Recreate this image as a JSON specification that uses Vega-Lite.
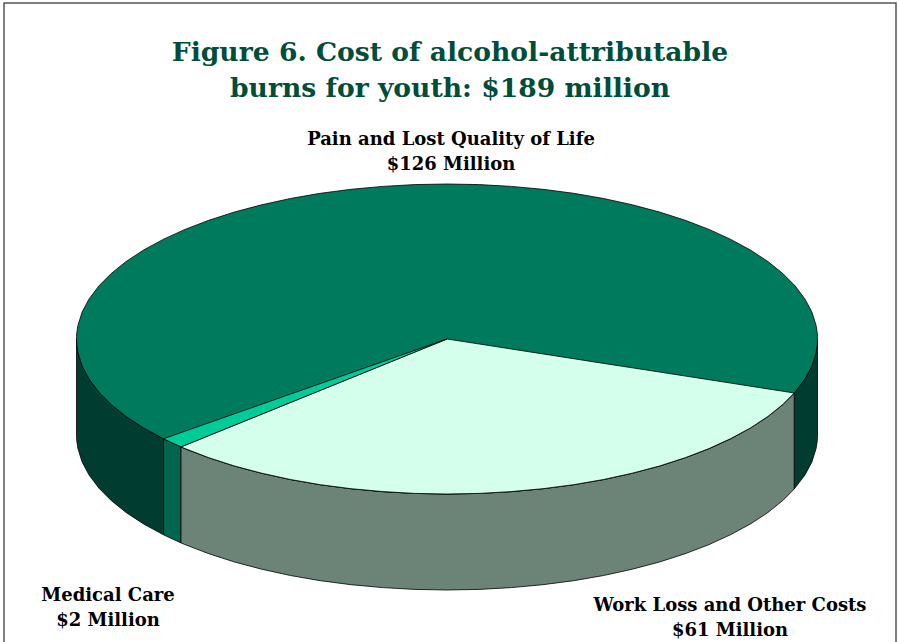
{
"$schema":"https://vega.github.io/schema/vega-lite/v6.json",
"width":892,"height":640,
"autosize":{"type":"none"},
"padding":{"left":4,"top":3,"right":3,"bottom":0},
"background":"white",
"view":{"stroke":"#555555","strokeWidth":1.5,"fill":"white"},
"title":{"text":["Figure 6. Cost of alcohol-attributable","burns for youth: $189 million"],"font":"DejaVu Serif","fontSize":26.6,"fontWeight":"bold","color":"#004D3A","lineHeight":36,"anchor":"middle","frame":"group","offset":-100},
"datasets":{
"shape":[
{"part":"Pain wall","x":-370.5,"y":0,"y2":96},{"part":"Pain wall","x":-370.4,"y":2.7,"y2":98.7},{"part":"Pain wall","x":-370.3,"y":5.4,"y2":101.4},{"part":"Pain wall","x":-369.1,"y":13.5,"y2":109.5},{"part":"Pain wall","x":-364.9,"y":26.9,"y2":122.9},{"part":"Pain wall","x":-357.9,"y":40.1,"y2":136.1},{"part":"Pain wall","x":-348.2,"y":53,"y2":149},{"part":"Pain wall","x":-335.8,"y":65.5,"y2":161.5},{"part":"Pain wall","x":-320.9,"y":77.5,"y2":173.5},{"part":"Pain wall","x":-303.5,"y":88.9,"y2":184.9},{"part":"Pain wall","x":-283.5,"y":99.8,"y2":195.8},
{"part":"Pain wall right","x":347.2,"y":54,"y2":150},{"part":"Pain wall right","x":357.9,"y":40.1,"y2":136.1},{"part":"Pain wall right","x":364.9,"y":26.9,"y2":122.9},{"part":"Pain wall right","x":369.1,"y":13.5,"y2":109.5},{"part":"Pain wall right","x":370.3,"y":5.4,"y2":101.4},{"part":"Pain wall right","x":370.4,"y":2.7,"y2":98.7},{"part":"Pain wall right","x":370.5,"y":0,"y2":96},
{"part":"Medical wall","x":-283.5,"y":99.8,"y2":195.8},{"part":"Medical wall","x":-266,"y":107.9,"y2":203.9},
{"part":"Work wall","x":-266,"y":107.9,"y2":203.9},{"part":"Work wall","x":-262,"y":109.6,"y2":205.6},{"part":"Work wall","x":-238.2,"y":118.7,"y2":214.7},{"part":"Work wall","x":-212.5,"y":127,"y2":223},{"part":"Work wall","x":-185.3,"y":134.2,"y2":230.2},{"part":"Work wall","x":-156.6,"y":140.5,"y2":236.5},{"part":"Work wall","x":-126.7,"y":145.7,"y2":241.7},{"part":"Work wall","x":-95.9,"y":149.7,"y2":245.7},{"part":"Work wall","x":-64.3,"y":152.6,"y2":248.6},{"part":"Work wall","x":-32.3,"y":154.4,"y2":250.4},{"part":"Work wall","x":0,"y":155,"y2":251},{"part":"Work wall","x":32.3,"y":154.4,"y2":250.4},{"part":"Work wall","x":64.3,"y":152.6,"y2":248.6},{"part":"Work wall","x":95.9,"y":149.7,"y2":245.7},{"part":"Work wall","x":126.7,"y":145.7,"y2":241.7},{"part":"Work wall","x":156.6,"y":140.5,"y2":236.5},{"part":"Work wall","x":185.3,"y":134.2,"y2":230.2},{"part":"Work wall","x":212.5,"y":127,"y2":223},{"part":"Work wall","x":238.2,"y":118.7,"y2":214.7},{"part":"Work wall","x":262,"y":109.6,"y2":205.6},{"part":"Work wall","x":283.8,"y":99.6,"y2":195.6},{"part":"Work wall","x":303.5,"y":88.9,"y2":184.9},{"part":"Work wall","x":320.9,"y":77.5,"y2":173.5},{"part":"Work wall","x":335.8,"y":65.5,"y2":161.5},{"part":"Work wall","x":347.2,"y":54,"y2":150},
{"part":"Pain top","x":-370.5,"y":0,"y2":0},{"part":"Pain top","x":-370.4,"y":-2.7,"y2":2.7},{"part":"Pain top","x":-370.3,"y":-5.4,"y2":5.4},{"part":"Pain top","x":-369.1,"y":-13.5,"y2":13.5},{"part":"Pain top","x":-364.9,"y":-26.9,"y2":26.9},{"part":"Pain top","x":-357.9,"y":-40.1,"y2":40.1},{"part":"Pain top","x":-348.2,"y":-53,"y2":53},{"part":"Pain top","x":-335.8,"y":-65.5,"y2":65.5},{"part":"Pain top","x":-320.9,"y":-77.5,"y2":77.5},{"part":"Pain top","x":-303.5,"y":-88.9,"y2":88.9},{"part":"Pain top","x":-283.8,"y":-99.6,"y2":99.6},{"part":"Pain top","x":-262,"y":-109.6,"y2":109.6},{"part":"Pain top","x":-238.2,"y":-118.7,"y2":118.7},{"part":"Pain top","x":-212.5,"y":-127,"y2":127},{"part":"Pain top","x":-185.3,"y":-134.2,"y2":134.2},{"part":"Pain top","x":-156.6,"y":-140.5,"y2":140.5},{"part":"Pain top","x":-126.7,"y":-145.7,"y2":145.7},{"part":"Pain top","x":-95.9,"y":-149.7,"y2":149.7},{"part":"Pain top","x":-64.3,"y":-152.6,"y2":152.6},{"part":"Pain top","x":-32.3,"y":-154.4,"y2":154.4},{"part":"Pain top","x":0,"y":-155,"y2":155},{"part":"Pain top","x":32.3,"y":-154.4,"y2":154.4},{"part":"Pain top","x":64.3,"y":-152.6,"y2":152.6},{"part":"Pain top","x":95.9,"y":-149.7,"y2":149.7},{"part":"Pain top","x":126.7,"y":-145.7,"y2":145.7},{"part":"Pain top","x":156.6,"y":-140.5,"y2":140.5},{"part":"Pain top","x":185.3,"y":-134.2,"y2":134.2},{"part":"Pain top","x":212.5,"y":-127,"y2":127},{"part":"Pain top","x":238.2,"y":-118.7,"y2":118.7},{"part":"Pain top","x":262,"y":-109.6,"y2":109.6},{"part":"Pain top","x":283.8,"y":-99.6,"y2":99.6},{"part":"Pain top","x":303.5,"y":-88.9,"y2":88.9},{"part":"Pain top","x":320.9,"y":-77.5,"y2":77.5},{"part":"Pain top","x":335.8,"y":-65.5,"y2":65.5},{"part":"Pain top","x":348.2,"y":-53,"y2":53},{"part":"Pain top","x":357.9,"y":-40.1,"y2":40.1},{"part":"Pain top","x":364.9,"y":-26.9,"y2":26.9},{"part":"Pain top","x":369.1,"y":-13.5,"y2":13.5},{"part":"Pain top","x":370.3,"y":-5.4,"y2":5.4},{"part":"Pain top","x":370.4,"y":-2.7,"y2":2.7},{"part":"Pain top","x":370.5,"y":0,"y2":0},
{"part":"Work top","x":-266,"y":107.9,"y2":107.9},{"part":"Work top","x":-262,"y":106.3,"y2":109.6},{"part":"Work top","x":-238.2,"y":96.6,"y2":118.7},{"part":"Work top","x":-212.5,"y":86.2,"y2":127},{"part":"Work top","x":-185.3,"y":75.2,"y2":134.2},{"part":"Work top","x":-156.6,"y":63.5,"y2":140.5},{"part":"Work top","x":-126.7,"y":51.4,"y2":145.7},{"part":"Work top","x":-95.9,"y":38.9,"y2":149.7},{"part":"Work top","x":-64.3,"y":26.1,"y2":152.6},{"part":"Work top","x":-32.3,"y":13.1,"y2":154.4},{"part":"Work top","x":0,"y":0,"y2":155},{"part":"Work top","x":32.3,"y":5,"y2":154.4},{"part":"Work top","x":64.3,"y":10,"y2":152.6},{"part":"Work top","x":95.9,"y":14.9,"y2":149.7},{"part":"Work top","x":126.7,"y":19.7,"y2":145.7},{"part":"Work top","x":156.6,"y":24.4,"y2":140.5},{"part":"Work top","x":185.3,"y":28.8,"y2":134.2},{"part":"Work top","x":212.5,"y":33,"y2":127},{"part":"Work top","x":238.2,"y":37,"y2":118.7},{"part":"Work top","x":262,"y":40.7,"y2":109.6},{"part":"Work top","x":283.8,"y":44.1,"y2":99.6},{"part":"Work top","x":303.5,"y":47.2,"y2":88.9},{"part":"Work top","x":320.9,"y":49.9,"y2":77.5},{"part":"Work top","x":335.8,"y":52.2,"y2":65.5},{"part":"Work top","x":347.2,"y":54,"y2":54},
{"part":"Medical top","x":-283.5,"y":99.8,"y2":99.8},{"part":"Medical top","x":-266,"y":93.6,"y2":107.9},{"part":"Medical top","x":0,"y":0,"y2":0}
],
"labels":[
{"label":"Pain and Lost Quality of Life\n$126 Million","x":4,"y":-199.5},
{"label":"Work Loss and Other Costs\n$61 Million","x":283,"y":266.5},
{"label":"Medical Care\n$2 Million","x":-339,"y":256.5}
]},
"layer":[
{"data":{"name":"shape"},
"mark":{"type":"area","stroke":"#000000","strokeWidth":0.8,"opacity":1},
"encoding":{
"x":{"field":"x","type":"quantitative","axis":null,"scale":{"domain":[-443,449],"nice":false,"zero":false}},
"y":{"field":"y","type":"quantitative","axis":null,"stack":null,"scale":{"domain":[-336,304],"nice":false,"zero":false,"reverse":true}},
"y2":{"field":"y2"},
"color":{"field":"part","type":"nominal","legend":null,"scale":{
"domain":["Pain wall","Pain wall right","Medical wall","Work wall","Pain top","Work top","Medical top"],
"range":["#003D30","#003D30","#00664E","#6C8378","#007A5C","#D4FFEC","#00CC99"]}}
}},
{"data":{"name":"labels"},
"mark":{"type":"text","font":"DejaVu Serif","fontWeight":"bold","fontSize":18,"lineHeight":25,"lineBreak":"\n","align":"center","baseline":"middle","color":"#000000"},
"encoding":{
"x":{"field":"x","type":"quantitative"},
"y":{"field":"y","type":"quantitative"},
"text":{"field":"label","type":"nominal"}
}}
]
}
